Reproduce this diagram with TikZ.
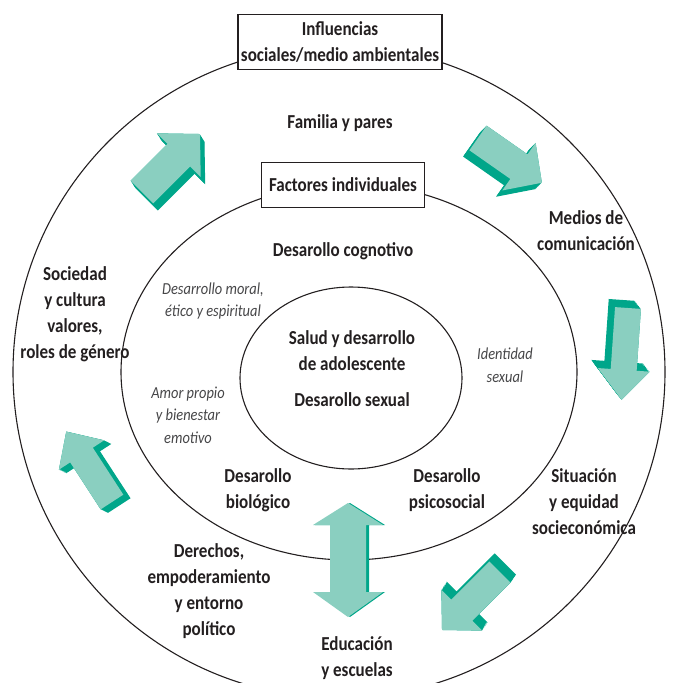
\documentclass[tikz,border=0pt]{standalone}
\usepackage{fontspec}
\setmainfont{Carlito}[FakeStretch=0.86]
\usepackage{tikz}
\usetikzlibrary{shapes.geometric}
\definecolor{arrowlight}{RGB}{138,207,192}
\definecolor{arrowdark}{RGB}{0,166,138}
\definecolor{textdark}{RGB}{35,31,32}
\definecolor{textgray}{RGB}{70,70,72}
\tikzstyle{ring} = [draw, ellipse, line width=1.1pt, inner sep=0pt, color=textdark]
\tikzstyle{factor} = [font=\bfseries\fontsize{19.8}{26}\selectfont, text=textdark, align=center]
\tikzstyle{aspect} = [font=\itshape\fontsize{16.8}{22.5}\selectfont, text=textgray, align=center]
\tikzstyle{titlebox} = [factor, draw=textdark, fill=white, line width=1.1pt, inner sep=2pt]
% block arrow: tail x, tail y, angle, length, shaft, head width, head length, depth x, depth y
\newcommand{\tealarrow}[9]{%
  \foreach \s in {0,0.1,...,1}
    \fill[arrowdark, shift={({#1+\s*#8},{#2+\s*#9})}, rotate=#3]
      (0,-#5/2) -- (#4-#7,-#5/2) -- (#4-#7,-#6/2) -- (#4,0) -- (#4-#7,#6/2) -- (#4-#7,#5/2) -- (0,#5/2) -- cycle;
  \fill[arrowlight, shift={(#1,#2)}, rotate=#3]
      (0,-#5/2) -- (#4-#7,-#5/2) -- (#4-#7,-#6/2) -- (#4,0) -- (#4-#7,#6/2) -- (#4-#7,#5/2) -- (0,#5/2) -- cycle;
}

\begin{document}
\begin{tikzpicture}[x=1pt, y=-1pt]
  \useasboundingbox (0,0) rectangle (681,683);

  % Rings
  \node [ring, minimum width=652pt, minimum height=652pt] (outer) at (339,372) {};
  \node [ring, minimum width=456pt, minimum height=376pt] (middle) at (349,372) {};
  \node [ring, minimum width=222pt, minimum height=182pt] (inner) at (351,378) {};

  % Arrows round the rings
  \tealarrow{142}{192}{45}{82}{32}{62}{30}{5}{8}
  \tealarrow{478}{138}{-35}{78}{30}{58}{28}{-7}{7}
  \tealarrow{628}{308}{-94}{92}{26}{52}{30}{-7}{-9}
  \tealarrow{500}{572}{-135}{82}{30}{58}{28}{6}{-9}
  \tealarrow{112}{502}{123}{84}{27}{54}{28}{8}{4}
  \fill [arrowdark] (350,503) -- (385,525) -- (369,525) -- (369,592) -- (385,592) -- (350,617)
    -- (315,592) -- (332,592) -- (332,525) -- (315,525) -- cycle;
  \fill [arrowlight] (348,503) -- (383,525) -- (366,525) -- (366,592) -- (383,592) -- (348,617)
    -- (313,592) -- (330,592) -- (330,525) -- (313,525) -- cycle;

  % Title boxes
  \node [titlebox, minimum width=204pt, minimum height=55pt] (influ) at (340,42)
    {Influencias\\sociales/medio ambientales};
  \node [titlebox, minimum width=163pt, minimum height=45pt] (factores) at (343,185)
    {Factores individuales};

  % Outer ring texts
  \node [factor] (familia) at (340,123) {Familia y pares};
  \node [factor] (medios) at (586,231) {Medios de\\comunicación};
  \node [factor] (situacion) at (584,502) {Situación\\y equidad\\socieconómica};
  \node [factor] (educacion) at (357,658) {Educación\\y escuelas};
  \node [factor] (derechos) at (209,591) {Derechos,\\empoderamiento\\y entorno\\político};
  \node [factor] (sociedad) at (75,314) {Sociedad\\y cultura\\valores,\\roles de género};

  % Middle ring texts
  \node [factor] (cognitivo) at (343,251) {Desarollo cognotivo};
  \node [aspect] (moral) at (213,301) {Desarrollo moral,\\ético y espiritual};
  \node [aspect] (identidad) at (505,365) {Identidad\\sexual};
  \node [aspect] (amor) at (188,415) {Amor propio\\y bienestar\\emotivo};
  \node [factor] (biologico) at (258,490) {Desarollo\\biológico};
  \node [factor] (psicosocial) at (447,490) {Desarollo\\psicosocial};

  % Inner ring texts
  \node [factor] (salud) at (352,351) {Salud y desarrollo\\de adolescente};
  \node [factor] (sexual) at (352,400) {Desarollo sexual};
\end{tikzpicture}
\end{document}
